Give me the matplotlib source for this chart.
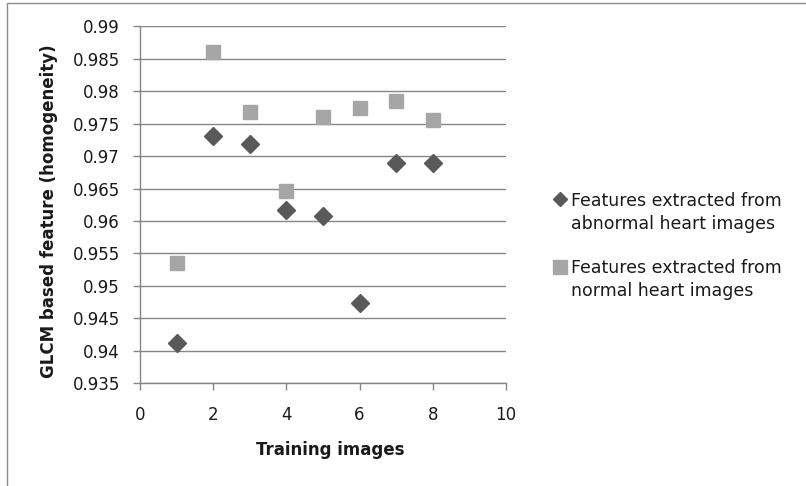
import matplotlib
matplotlib.use("Agg")
import matplotlib.pyplot as plt
from matplotlib.lines import Line2D

# Training image index
training_images = [1, 2, 3, 4, 5, 6, 7, 8]
# GLCM homogeneity for each training image
abnormal_homogeneity = [0.9412, 0.9731, 0.9718, 0.9617, 0.9607, 0.9474, 0.9689, 0.9689]
normal_homogeneity = [0.9536, 0.9860, 0.9768, 0.9646, 0.9761, 0.9774, 0.9785, 0.9756]

x_ticks = [0, 2, 4, 6, 8, 10]
y_ticks = [0.935, 0.94, 0.945, 0.95, 0.955, 0.96, 0.965, 0.97, 0.975, 0.98, 0.985, 0.99]
y_tick_labels = ["0.935", "0.94", "0.945", "0.95", "0.955", "0.96", "0.965",
                 "0.97", "0.975", "0.98", "0.985", "0.99"]

abnormal_label = "Features extracted from\nabnormal heart images"
normal_label = "Features extracted from\nnormal heart images"

plt.rcParams["font.family"] = ["DejaVu Sans"]

W, H = 806, 486
fig = plt.figure(figsize=(W / 100, H / 100), dpi=100)
fig.patch.set_facecolor("white")

text_c = "#1a1a1a"
grid_c = "#868686"
abn_c = "#595959"
nor_c = "#a6a6a6"


def fx(px):
    return px / W


def fy(py):
    return 1 - py / H


# chart frame: left and top edges
fig.add_artist(Line2D([fx(6.5), fx(6.5), fx(806)], [fy(486), fy(3.5), fy(3.5)],
                      transform=fig.transFigure, color="#8c8c8c", linewidth=1.0))

left, right, top, bottom = 140, 506, 26.3, 383.3
ax = fig.add_axes([left / W, 1 - bottom / H, (right - left) / W, (bottom - top) / H])

ax.set_xlim(0, 10)
ax.set_ylim(0.935, 0.99)
ax.set_yticks(y_ticks)
ax.set_yticklabels(y_tick_labels)
ax.set_xticks(x_ticks)
ax.yaxis.grid(True, color=grid_c, linewidth=1.0)
ax.set_axisbelow(True)
for s in ["top", "right"]:
    ax.spines[s].set_visible(False)
for s in ["left", "bottom"]:
    ax.spines[s].set_color(grid_c)
    ax.spines[s].set_linewidth(1.0)
ax.tick_params(axis="both", colors=grid_c, length=5, width=1.0,
               labelcolor=text_c, labelsize=12)
ax.tick_params(axis="x", pad=11.5)
ax.tick_params(axis="y", pad=9.5)

ax.plot(training_images, abnormal_homogeneity, linestyle="none", marker="D",
        markersize=9, color=abn_c, clip_on=False)
ax.plot(training_images, normal_homogeneity, linestyle="none", marker="s",
        markersize=10, color=nor_c, clip_on=False)

ax.set_xlabel("Training images", fontsize=12, fontweight="bold", color=text_c)
ax.xaxis.set_label_coords(0.519, -0.162)
ax.set_ylabel("GLCM based feature (homogeneity)", fontsize=12, fontweight="bold",
              color=text_c)
ax.yaxis.set_label_coords(-0.224, 0.483)

# legend keys and labels
legend_rows = [
    ("D", 7, abn_c, 560, 199, abnormal_label, 212.5),
    ("s", 9.5, nor_c, 560, 267, normal_label, 279.5),
]
for marker, size, color, mx, my, label, ty in legend_rows:
    fig.add_artist(Line2D([fx(mx)], [fy(my)], transform=fig.transFigure,
                          marker=marker, markersize=size, color=color,
                          linestyle="none"))
    fig.text(fx(571), fy(ty), label, fontsize=12.5, color=text_c,
             ha="left", va="center", linespacing=1.3)

fig.savefig("out.png", dpi=100)
